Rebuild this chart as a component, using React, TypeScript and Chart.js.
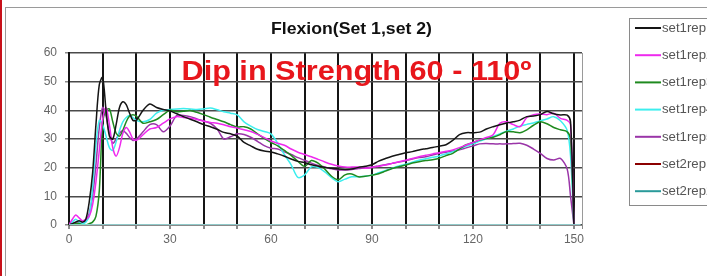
import React, { useEffect, useRef } from "react";
import { Chart, registerables } from "chart.js";

Chart.register(...registerables);

const xs = [
  0, 1, 2, 3, 4, 5, 6, 7, 8, 9, 10, 11, 12, 13, 14, 15, 16, 17, 18, 19, 20,
  22, 24, 26, 28, 30, 32, 34, 36, 38, 40,
  42, 44, 46, 48, 50, 52, 54, 56, 58, 60,
  62, 64, 66, 68, 70, 72, 74, 76, 78, 80,
  82, 84, 86, 88, 90, 92, 94, 96, 98, 100,
  102, 104, 106, 108, 110, 112, 114, 116, 118, 120,
  122, 124, 126, 128, 130, 132, 134, 136, 138, 140,
  142, 144, 146, 148, 149, 150,
];

const set1rep1 = [
  0, 0.5, 1, 1.5, 1, 2, 8, 18, 35, 49, 51.5, 40, 31, 30, 35, 41, 43, 42, 39, 36.5, 36.5,
  40, 42.2, 41, 40.3, 39.8, 38.8, 37.8, 36.9, 36, 35,
  34.3, 33.4, 32.3, 31.8, 31, 28.8, 27.6, 26.4, 25.8, 25.5,
  24.8, 24, 23, 22.2, 21.8, 21, 20.5, 20.1, 19.8, 19.5,
  19.4, 19.5, 20.1, 20.5, 21, 22.3, 23.2, 24, 24.6, 25.2,
  25.6, 26.2, 26.6, 27, 27.5, 28, 29.5, 31.5, 32.2, 32.2,
  32.4, 33.5, 34.3, 35, 35.6, 36, 36.6, 37.8, 38, 38.5,
  39.6, 38.8, 38.4, 38.3, 36, 0,
];

const set1rep2 = [
  0, 2, 3.5, 2.5, 1.5, 2, 3, 7, 15, 26, 37, 41, 35, 27, 24, 27, 32, 34, 32.5, 30, 29.5,
  31.5, 33.5, 34, 35.5, 37, 37.8, 37.5, 37.2, 36.8, 36.2,
  35.8, 35.5, 35, 34.3, 33.8, 33.2, 32.6, 31.6, 30.5, 29.3,
  28.5, 27.8, 26.5, 25.4, 24.6, 23.8, 22.9, 22, 21.2, 20.6,
  20.2, 20.2, 20.2, 19.8, 20.1, 20.5, 20.9, 21.5, 22.1, 22.6,
  23.2, 23.8, 24.3, 24.8, 25.2, 25.7, 26.2, 27, 27.9, 28.8,
  29.7, 30.5, 31.5, 35.5, 36, 35, 34.3, 37.5, 38.5, 38.7,
  38.5, 39, 37.2, 36.5, 35, 0,
];

const set1rep3 = [
  0, 0, 0.5, 0.5, 0, 0, 0.5, 1, 3, 12, 36, 40, 40.5, 36, 32, 31, 33, 36, 38, 38.5, 38,
  35.5, 36, 36.8, 38.5, 40, 39.5, 39.7, 39.9, 39.3, 38.5,
  37.6, 36.8, 36, 35, 34.2, 34.3, 33.5, 31.8, 30.2, 28.8,
  27.6, 26, 24.3, 22.2, 20.5, 22.5, 21.6, 19.5, 17, 15.8,
  17.5, 17.8, 16.8, 17, 17.4, 17.9, 18.8, 19.7, 20.3, 20.9,
  21.6, 22.1, 22.5, 22.8, 23.3, 24.2, 25, 26.5, 28, 28.8,
  29.6, 30.2, 30.6, 31.5, 32.6, 32.5, 32.2, 33.2, 34.8, 36,
  35.3, 34, 33.2, 32.5, 30, 0,
];

const set1rep4 = [
  0, 1, 2, 1, 0.5, 1, 3, 13, 28, 36.5, 35, 31, 27, 26, 29, 33, 36, 37.5, 38.2, 37.5, 36.5,
  36, 36.8, 39, 40, 40.3, 40.5, 40.6, 40.5, 40.3, 40.5,
  40.8, 40.2, 39.5, 39, 38.4, 36, 34.5, 33.3, 32.6, 31.8,
  28.5, 24.5, 21, 16.6, 17.5, 20.3, 20, 18.5, 16.5, 15.1,
  16, 16.8, 16.8, 17, 17.4, 18.2, 19, 19.8, 20.6, 21.2,
  21.9, 22.6, 23.1, 23.6, 24.1, 24.8, 25.5, 26.5, 27.5, 28.3,
  29.3, 30.1, 30.9, 31.8, 32.7, 33.5, 34.5, 35.1, 35.6, 36.3,
  37, 37.8, 36.4, 33, 24, 0,
];

const set1rep5 = [
  0, 0.5, 1, 1, 1, 1.5, 4, 10, 21, 34, 41, 38, 32, 28.5, 30, 32, 33, 32, 30.5, 29.5, 30,
  32.5, 35, 35, 32.5, 34.5, 38.2, 38.2, 37.8, 37, 36.3,
  35.5, 33.5, 30, 30.8, 31.8, 31.6, 30.6, 29.2, 27.7, 26.8,
  26.5, 25.5, 24.6, 23.5, 22.6, 21.6, 20.8, 20.2, 19.6, 19.2,
  19.2, 19.4, 19.7, 19.9, 20.2, 20.6, 21, 21.5, 22, 22.4,
  23, 23.5, 23.8, 24.4, 25, 25.4, 25.8, 26.2, 26.9, 27.6,
  28.3, 28.4, 28.3, 28.3, 28.3, 28.4, 28.5, 27.8, 26.5, 25,
  23.2, 22.7, 23.2, 19.5, 10, 0,
];

const set2rep1: number[] = [];
const set2rep2: number[] = [];

const zeroXs = [0, 152];
const zeroLine = [0, 0];

const seriesLabels = ["set1rep1", "set1rep2", "set1rep3", "set1rep4", "set1rep5", "set2rep1", "set2rep2"];
const seriesColors = ["#151515", "#ee2aee", "#1f8a1f", "#3deeee", "#9a35a8", "#8b0000", "#2a9a9a"];
const seriesValues = [set1rep1, set1rep2, set1rep3, set1rep4, set1rep5, set2rep1, set2rep2];

const yTicks = [0, 10, 20, 30, 40, 50, 60];
const xLabelTicks = [0, 30, 60, 90, 120, 150];

const titleText = "Flexion(Set 1,set 2)";
const noteText = "Dip in Strength 60 - 110º";

const FONT = '"Liberation Sans", Arial, sans-serif';

function fitText(ctx: CanvasRenderingContext2D, text: string, left: number, baseline: number, width: number) {
  const w = ctx.measureText(text).width;
  const s = width / w;
  ctx.save();
  ctx.translate(left, baseline);
  ctx.scale(s, 1);
  ctx.textAlign = "left";
  ctx.textBaseline = "alphabetic";
  ctx.fillText(text, 0, 0);
  ctx.restore();
}

const decorPlugin = {
  id: "decor",
  afterDatasetsDraw(chart: any) {
    const ctx: CanvasRenderingContext2D = chart.ctx;
    ctx.save();
    ctx.fillStyle = "#e8161c";
    ctx.font = `bold 28px ${FONT}`;
    fitText(ctx, noteText, 181.5, 80, 350);
    ctx.restore();
  },
  afterDraw(chart: any) {
    const ctx: CanvasRenderingContext2D = chart.ctx;
    ctx.save();
    ctx.fillStyle = "#111";
    ctx.font = `bold 17px ${FONT}`;
    fitText(ctx, titleText, 271, 33.5, 161);
    ctx.strokeStyle = "#8a8a8a";
    ctx.lineWidth = 1;
    ctx.strokeRect(629.5, 18.5, 120, 187);
    ctx.font = `12px ${FONT}`;
    const scaleX = 44 / ctx.measureText("set1rep").width;
    let row = 0;
    chart.data.datasets.forEach((ds: any) => {
      if (!ds.label) return;
      const y = 28 + row * 27.2;
      row += 1;
      ctx.strokeStyle = ds.borderColor;
      ctx.lineWidth = 2;
      ctx.beginPath();
      ctx.moveTo(635, y);
      ctx.lineTo(661, y);
      ctx.stroke();
      ctx.save();
      ctx.fillStyle = "#555";
      ctx.textAlign = "left";
      ctx.textBaseline = "middle";
      ctx.translate(662, y + 0.5);
      ctx.scale(scaleX, 1);
      ctx.fillText(ds.label, 0, 0);
      ctx.restore();
    });
    ctx.restore();
  },
};

export default function App() {
  const ref = useRef<HTMLCanvasElement | null>(null);

  useEffect(() => {
    if (!ref.current) return;
    const datasets: any[] = seriesLabels.map((label, si) => ({
      label,
      data: seriesValues[si].map((v, i) => ({ x: xs[i], y: v })),
      borderColor: seriesColors[si],
      backgroundColor: seriesColors[si],
      borderWidth: 1.5,
      pointRadius: 0,
      tension: 0.3,
      fill: false,
    }));
    datasets.unshift({
      label: "",
      data: zeroLine.map((v, i) => ({ x: zeroXs[i], y: v })),
      borderColor: "#a8f4f4",
      backgroundColor: "#a8f4f4",
      borderWidth: 1.5,
      pointRadius: 0,
      tension: 0,
      fill: false,
    });

    const chart = new Chart(ref.current, {
      type: "line",
      data: { datasets },
      plugins: [decorPlugin],
      options: {
        responsive: false,
        animation: false,
        layout: { padding: { left: 0, right: 125, top: 53, bottom: 0 } },
        plugins: {
          legend: { display: false },
          title: { display: false },
          tooltip: { enabled: false },
        },
        scales: {
          x: {
            type: "linear",
            min: 0,
            max: 152.4,
            afterFit: (s: any) => {
              s.height = 51;
            },
            afterBuildTicks: (s: any) => {
              const t: any[] = [];
              for (let v = 0; v <= 150; v += 10) t.push({ value: v });
              t.push({ value: 152.4 });
              s.ticks = t;
            },
            ticks: {
              autoSkip: false,
              maxRotation: 0,
              padding: 3,
              color: "#666",
              font: { family: FONT, size: 12 },
              callback: (v: any) => (xLabelTicks.includes(Number(v)) ? String(v) : ""),
            },
            grid: {
              color: (c: any) => (c.tick && c.tick.value > 151 ? "#9a9a9a" : "#151515"),
              lineWidth: (c: any) => (c.tick && c.tick.value > 151 ? 1 : 2),
              tickColor: "#8a8a8a",
              tickLength: 4,
            },
            border: { color: "#8a8a8a", width: 1 },
          },
          y: {
            min: 0,
            max: 60,
            afterFit: (s: any) => {
              s.width = 69;
            },
            afterBuildTicks: (s: any) => {
              s.ticks = yTicks.map((v) => ({ value: v }));
            },
            ticks: {
              padding: 8,
              color: "#666",
              font: { family: FONT, size: 12 },
            },
            grid: {
              color: "#4a4a4a",
              lineWidth: 1.5,
              tickColor: "#8a8a8a",
              tickLength: 4,
            },
            border: { color: "#151515", width: 2 },
          },
        },
      },
    });
    return () => chart.destroy();
  }, []);

  return (
    <div style={{ position: "fixed", left: 0, top: 0, width: 707, height: 276, background: "#fff", overflow: "hidden" }}>
      <div style={{ position: "absolute", left: 0, top: 0, width: 2, height: 276, background: "#c8101a" }} />
      <div style={{ position: "absolute", left: 5, top: 7, right: 0, bottom: 0, borderLeft: "1px solid #9a9a9a", borderTop: "1px solid #9a9a9a" }} />
      <canvas ref={ref} width={707} height={276} style={{ position: "absolute", left: 0, top: 0, display: "block" }} />
    </div>
  );
}
